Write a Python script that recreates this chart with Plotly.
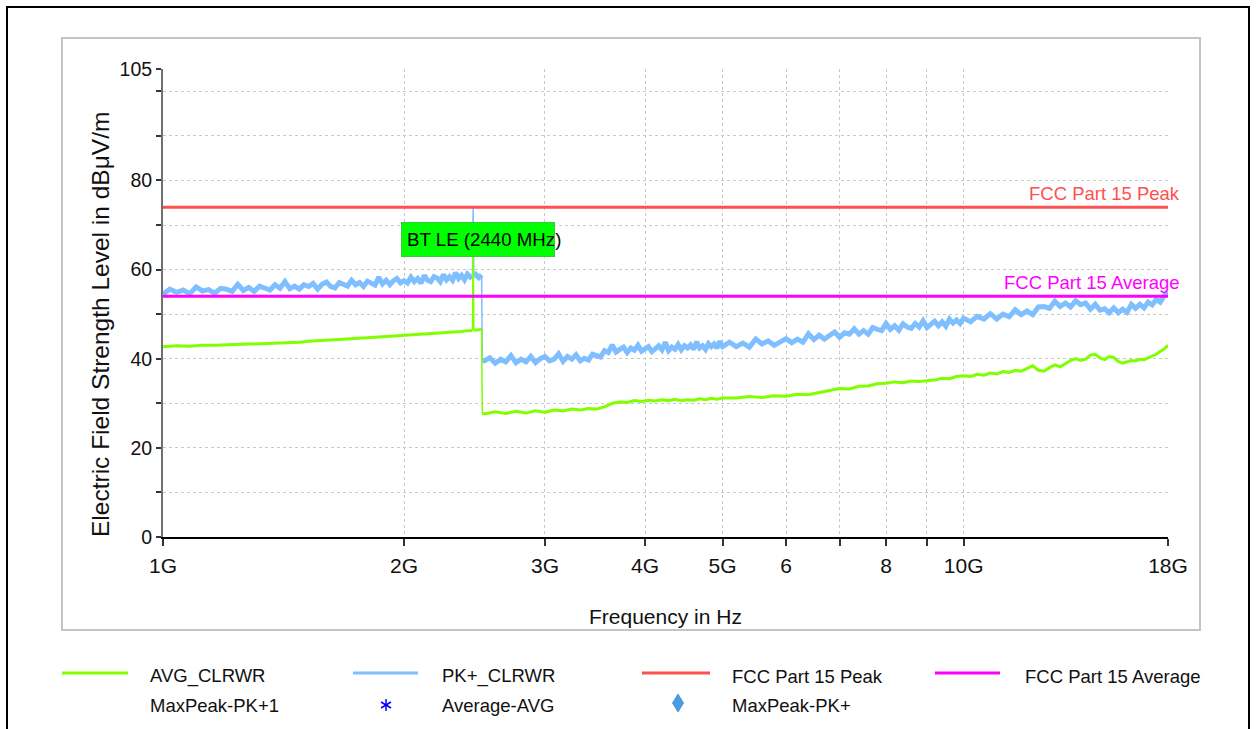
import numpy as np
import plotly.graph_objects as go

FONT = "Liberation Sans, Arial, sans-serif"

# ---------------- PK+ sweep (GHz, dBuV/m) ----------------
pk_freq_low = [1.00, 1.02, 1.04, 1.06, 1.08, 1.10, 1.12, 1.14, 1.16, 1.18,
               1.20, 1.22, 1.24, 1.26, 1.28, 1.30, 1.32, 1.34, 1.36, 1.38,
               1.40, 1.42, 1.44, 1.46, 1.48, 1.50, 1.52, 1.54, 1.56, 1.58,
               1.60, 1.62, 1.64, 1.66, 1.68, 1.70, 1.72, 1.74, 1.76, 1.78,
               1.80, 1.82, 1.84, 1.86, 1.88, 1.90, 1.92, 1.94, 1.96, 1.98,
               2.00, 2.02, 2.04, 2.06, 2.08, 2.10, 2.12, 2.14, 2.16, 2.18,
               2.20, 2.22, 2.24, 2.26, 2.28, 2.30, 2.32, 2.34, 2.36, 2.38,
               2.40, 2.42, 2.435, 2.44, 2.445, 2.46, 2.48, 2.50]
pk_level_low = [54.5, 55.6, 54.9, 55.4, 54.6, 56.1, 55.2, 55.5, 54.7, 55.8,
                55.6, 55.1, 56.7, 55.3, 56.0, 55.1, 56.3, 55.8, 55.4, 56.6,
                55.8, 57.3, 55.7, 56.3, 55.6, 56.6, 56.2, 56.9, 55.6, 56.7,
                57.2, 56.2, 55.9, 57.1, 56.7, 56.3, 57.6, 56.6, 57.1, 56.2,
                57.4, 57.0, 56.5, 58.3, 56.8, 57.6, 56.6, 57.5, 58.0, 57.0,
                57.5, 57.0, 58.3, 57.3, 58.0, 56.9, 58.7, 57.6, 57.3, 58.4,
                58.1, 57.3, 58.9, 57.7, 58.4, 57.6, 59.3, 58.0, 58.7, 57.7,
                59.0, 58.3, 58.6, 74.0, 58.4, 58.9, 58.2, 58.8]

pk_freq_mid = [2.505, 2.52, 2.56, 2.60, 2.64, 2.68, 2.72, 2.76, 2.80, 2.84, 2.88,
               2.92, 2.96, 3.00, 3.04, 3.08, 3.12, 3.16, 3.20, 3.24, 3.28,
               3.32, 3.36, 3.40, 3.44, 3.48, 3.52, 3.56, 3.60, 3.64, 3.68,
               3.72, 3.76, 3.80, 3.84, 3.88, 3.92, 3.96, 4.00, 4.04, 4.08,
               4.12, 4.16, 4.20, 4.24, 4.28, 4.32, 4.36, 4.40, 4.44, 4.48,
               4.52, 4.56, 4.60, 4.64, 4.68, 4.72, 4.76, 4.80, 4.84, 4.88,
               4.92, 4.96, 5.00]
pk_level_mid = [39.6, 39.5, 40.2, 39.0, 39.9, 39.3, 40.7, 39.1, 39.9, 39.3, 40.5,
                39.1, 40.0, 40.5, 39.5, 39.9, 41.1, 39.4, 40.5, 39.9, 40.9,
                39.5, 40.1, 39.7, 41.0, 40.8, 40.4, 41.8, 41.4, 43.1, 41.5,
                42.1, 42.6, 41.4, 42.4, 41.9, 43.0, 41.7, 42.1, 42.7, 41.6,
                42.4, 42.9, 42.0, 43.7, 41.8, 42.6, 42.1, 43.2, 42.0, 42.9,
                42.4, 43.1, 42.1, 43.8, 42.4, 42.9, 42.1, 43.4, 42.7, 43.3,
                42.4, 43.9, 42.7]

pk_freq_high = [5.1, 5.2, 5.3, 5.4, 5.5, 5.6, 5.7, 5.8, 5.9, 6.0,
                6.1, 6.2, 6.3, 6.4, 6.5, 6.6, 6.7, 6.8, 6.9, 7.0,
                7.1, 7.2, 7.3, 7.4, 7.5, 7.6, 7.7, 7.8, 7.9, 8.0,
                8.1, 8.2, 8.3, 8.4, 8.5, 8.6, 8.7, 8.8, 8.9, 9.0,
                9.1, 9.2, 9.3, 9.4, 9.5, 9.6, 9.7, 9.8, 9.9, 10.0,
                10.2, 10.4, 10.6, 10.8, 11.0, 11.2, 11.4, 11.6, 11.8, 12.0,
                12.2, 12.4, 12.6, 12.8, 13.0, 13.2, 13.4, 13.6, 13.8, 14.0,
                14.2, 14.4, 14.6, 14.8, 15.0, 15.2, 15.4, 15.6, 15.8, 16.0,
                16.2, 16.4, 16.6, 16.8, 17.0, 17.2, 17.4, 17.6, 17.8, 18.0]
pk_level_high = [43.7, 42.7, 43.5, 42.6, 44.4, 43.3, 44.0, 43.0, 43.7, 44.5,
                 43.6, 44.4, 43.7, 45.6, 44.3, 45.3, 44.4, 45.2, 46.0, 44.8,
                 45.8, 45.5, 46.7, 45.5, 46.3, 45.5, 47.0, 46.6, 46.3, 47.9,
                 46.6, 47.4, 46.4, 47.8, 47.1, 46.8, 47.9, 47.1, 48.5, 47.0,
                 47.9, 48.4, 47.4, 48.3, 47.3, 48.9, 48.0, 48.7, 47.9, 49.1,
                 48.3, 49.5, 48.9, 50.1, 48.9, 50.0, 49.4, 51.0, 49.9, 50.7,
                 49.9, 51.6, 51.7, 51.3, 52.9, 51.7, 52.5, 51.6, 53.0, 52.1,
                 52.5, 51.1, 52.2, 50.9, 51.2, 50.3, 51.4, 50.3, 51.1, 50.4,
                 52.2, 51.3, 52.2, 51.4, 52.7, 52.1, 53.3, 52.7, 54.1, 55.0]

# ---------------- AVG sweep (GHz, dBuV/m) ----------------
avg_freq_low = [1.00, 1.04, 1.08, 1.12, 1.16, 1.20, 1.24, 1.28, 1.32, 1.36,
                1.40, 1.44, 1.48, 1.52, 1.56, 1.60, 1.64, 1.68, 1.72, 1.76,
                1.80, 1.84, 1.88, 1.92, 1.96, 2.00, 2.04, 2.08, 2.12, 2.16,
                2.20, 2.24, 2.28, 2.32, 2.36, 2.40, 2.42, 2.435, 2.44, 2.445,
                2.46, 2.48, 2.50]
avg_level_low = [42.7, 42.9, 42.8, 43.0, 43.0, 43.1, 43.2, 43.2, 43.4, 43.4,
                 43.5, 43.7, 43.7, 43.9, 44.0, 44.1, 44.2, 44.4, 44.4, 44.6,
                 44.7, 44.8, 44.9, 45.0, 45.1, 45.2, 45.3, 45.4, 45.5, 45.6,
                 45.7, 45.8, 45.9, 46.0, 46.1, 46.3, 46.3, 46.3, 66.0, 46.4,
                 46.4, 46.5, 46.6]

avg_freq_mid = [2.505, 2.52, 2.60, 2.68, 2.76, 2.84, 2.92, 3.00, 3.08, 3.16, 3.24,
                3.32, 3.40, 3.48, 3.56, 3.64, 3.72, 3.80, 3.88, 3.96, 4.04,
                4.12, 4.20, 4.28, 4.36, 4.44, 4.52, 4.60, 4.68, 4.76, 4.84,
                4.92, 5.00]
avg_level_mid = [27.8, 27.6, 28.1, 27.7, 28.2, 27.8, 28.3, 28.0, 28.5, 28.3, 28.7,
                 28.5, 28.8, 28.7, 29.2, 30.0, 30.3, 30.2, 30.6, 30.4, 30.7,
                 30.5, 30.8, 30.6, 30.9, 30.6, 30.8, 30.7, 31.0, 30.8, 31.1,
                 30.9, 31.2]

avg_freq_high = [5.2, 5.4, 5.6, 5.8, 6.0, 6.2, 6.4, 6.6, 6.8, 7.0,
                 7.2, 7.4, 7.6, 7.8, 8.0, 8.2, 8.4, 8.6, 8.8, 9.0,
                 9.2, 9.4, 9.6, 9.8, 10.0,
                 10.2, 10.4, 10.6, 10.8, 11.0, 11.2, 11.4, 11.6, 11.8, 12.0,
                 12.2, 12.4, 12.6, 12.8, 13.0, 13.2, 13.4, 13.6, 13.8, 14.0,
                 14.2, 14.4, 14.6, 14.8, 15.0, 15.2, 15.4, 15.6, 15.8, 16.0,
                 16.2, 16.4, 16.6, 16.8, 17.0, 17.2, 17.4, 17.6, 17.8, 18.0]
avg_level_high = [31.2, 31.5, 31.3, 31.7, 31.6, 32.0, 31.9, 32.4, 32.9, 33.3,
                  33.2, 33.8, 33.9, 34.4, 34.5, 34.8, 34.6, 35.0, 34.9, 35.1,
                  35.2, 35.6, 35.5, 36.0, 36.2,
                  36.0, 36.5, 36.3, 36.8, 36.6, 37.1, 36.9, 37.4, 37.2, 37.8,
                  38.4, 37.4, 37.2, 38.0, 38.6, 38.2, 38.9, 39.6, 40.0, 39.6,
                  39.9, 40.8, 41.0, 40.2, 39.8, 40.5, 40.3, 39.4, 39.0, 39.3,
                  39.6, 39.5, 39.9, 39.8, 40.2, 40.5, 41.0, 41.6, 42.2, 43.0]

# ---------------- limits ----------------
limit_freq = [1.0, 18.0]
fcc_peak_limit = [74.0, 74.0]
fcc_avg_limit = [54.0, 54.0]

# ---------------- axes ----------------
x_tick_vals = [1, 2, 3, 4, 5, 6, 7, 8, 9, 10, 18]
x_tick_text = ["1G", "2G", "3G", "4G", "5G", "6", "", "8", "", "10G", "18G"]
y_tick_vals = [0, 10, 20, 30, 40, 50, 60, 70, 80, 90, 100, 105]
y_tick_text = ["0", "", "20", "", "40", "", "60", "", "80", "", "", "105"]

marker_freq = 2.44
marker_level = 66.7
marker_text = "BT LE (2440 MHz)"

C_AVG = "#80FF00"
C_PK = "#80BFFF"
C_PEAK = "#FF5050"
C_AVGLIM = "#FF00FF"
C_TEXT = "#111111"

# plot area in pixels
L, R, T, B = 163, 1168, 69, 537
W, H = 1257, 729


def px(x):
    return (x - L) / (R - L)


def py(y):
    return (B - y) / (B - T)


def add_sweep(fig, freq, level, color, width):
    """Sweep drawn as a wide noisy band; the narrow spike at the marker and the
    band-edge step are drawn with a thin pen."""
    i_s0, i_s1 = freq.index(2.435), freq.index(2.445)
    i_d0, i_d1 = freq.index(2.50), freq.index(2.505)
    pieces = [(0, i_s0 + 1, width), (i_s0, i_s1 + 1, 1.5), (i_s1, i_d0 + 1, width),
              (i_d0, i_d1 + 1, 1.5), (i_d1, len(freq), width)]
    for a, b, w in pieces:
        fig.add_trace(go.Scatter(x=freq[a:b], y=level[a:b], mode="lines",
                                 line=dict(color=color, width=w), hoverinfo="skip"))


fig = go.Figure()
add_sweep(fig, pk_freq_low + pk_freq_mid + pk_freq_high,
          pk_level_low + pk_level_mid + pk_level_high, C_PK, 5)
add_sweep(fig, avg_freq_low + avg_freq_mid + avg_freq_high,
          avg_level_low + avg_level_mid + avg_level_high, C_AVG, 3)
fig.add_trace(go.Scatter(x=limit_freq, y=fcc_peak_limit, mode="lines",
                         line=dict(color=C_PEAK, width=3), name="FCC Part 15 Peak"))
fig.add_trace(go.Scatter(x=limit_freq, y=fcc_avg_limit, mode="lines",
                         line=dict(color=C_AVGLIM, width=3), name="FCC Part 15 Average"))

annotations = []
# limit labels
for label, level, color in [("FCC Part 15 Peak", fcc_peak_limit[1], C_PEAK),
                            ("FCC Part 15 Average", fcc_avg_limit[1], C_AVGLIM)]:
    annotations.append(dict(x=np.log10(limit_freq[1]), y=level, xref="x", yref="y",
                            text=label, showarrow=False, xanchor="right",
                            yanchor="bottom", xshift=14, yshift=1,
                            font=dict(color=color, size=18.5, family=FONT)))
# marker label: green box, then its text on top (text runs past the box)
annotations.append(dict(x=np.log10(marker_freq), y=marker_level, xref="x", yref="y",
                        text=" ", showarrow=False, xanchor="center", yanchor="middle",
                        xshift=5, width=150, height=31,
                        bgcolor="#00FF00", bordercolor="#3CC83C", borderwidth=1,
                        font=dict(size=18, family=FONT)))
annotations.append(dict(x=np.log10(marker_freq), y=marker_level, xref="x", yref="y",
                        text=marker_text, showarrow=False, xanchor="left", yanchor="middle",
                        xshift=-68, font=dict(color="black", size=18.7, family=FONT)))
# axis titles
annotations.append(dict(x=px(100), y=py(325), xref="paper", yref="paper",
                        text="Electric Field Strength Level in dBμV/m", textangle=-90,
                        showarrow=False, xanchor="center", yanchor="middle",
                        font=dict(size=24.5, family=FONT, color=C_TEXT)))
annotations.append(dict(x=px(665), y=py(616), xref="paper", yref="paper",
                        text="Frequency in Hz", showarrow=False,
                        xanchor="center", yanchor="middle",
                        font=dict(size=21, family=FONT, color=C_TEXT)))

# legend
legend_text = [("AVG_CLRWR", 148, 676), ("PK+_CLRWR", 440, 676),
               ("FCC Part 15 Peak", 730, 676), ("FCC Part 15 Average", 1023, 676),
               ("MaxPeak-PK+1", 148, 705), ("Average-AVG", 440, 705),
               ("MaxPeak-PK+", 730, 705)]
for txt, lx, ly in legend_text:
    annotations.append(dict(x=px(lx), y=py(ly), xref="paper", yref="paper", text=txt,
                            showarrow=False, xanchor="left", yanchor="middle",
                            font=dict(size=18.5, family=FONT, color=C_TEXT)))

shapes = []
# outer frame and chart panel
shapes.append(dict(type="rect", xref="paper", yref="paper", x0=px(7), x1=px(1249),
                   y0=py(745), y1=py(7), line=dict(color="black", width=2), layer="below"))
shapes.append(dict(type="rect", xref="paper", yref="paper", x0=px(62), x1=px(1200),
                   y0=py(630), y1=py(38), line=dict(color="#c4c4c4", width=2), layer="below"))
# legend line samples
for color, x0, x1 in [(C_AVG, 62, 128), (C_PK, 353, 418), (C_PEAK, 642, 710), (C_AVGLIM, 935, 1000)]:
    shapes.append(dict(type="line", xref="paper", yref="paper", x0=px(x0), x1=px(x1),
                       y0=py(673), y1=py(673), line=dict(color=color, width=3)))
# asterisk symbol
ax_, ay_ = 386, 705
for dx0, dy0, dx1, dy1 in [(0, -6, 0, 6), (-5, -3, 5, 3), (-5, 3, 5, -3)]:
    shapes.append(dict(type="line", xref="paper", yref="paper",
                       x0=px(ax_ + dx0), y0=py(ay_ + dy0), x1=px(ax_ + dx1), y1=py(ay_ + dy1),
                       line=dict(color="#0000FF", width=1.5)))
# diamond symbol
dx_, dy_ = 678, 703
path = "M {},{} L {},{} L {},{} L {},{} Z".format(
    px(dx_), py(dy_ - 9), px(dx_ + 5.5), py(dy_), px(dx_), py(dy_ + 9), px(dx_ - 5.5), py(dy_))
shapes.append(dict(type="path", xref="paper", yref="paper", path=path,
                   fillcolor="#4A9CE0", line=dict(color="#4A9CE0", width=1)))

fig.update_layout(
    width=W, height=H,
    margin=dict(l=L, r=W - R, t=T, b=H - B),
    plot_bgcolor="white", paper_bgcolor="white",
    showlegend=False,
    font=dict(family=FONT, size=21, color=C_TEXT),
    annotations=annotations, shapes=shapes,
    xaxis=dict(type="log", range=[0, np.log10(18)], tickmode="array",
               tickvals=x_tick_vals, ticktext=x_tick_text,
               ticks="outside", ticklen=7, tickwidth=1.5, tickcolor="#333",
               ticklabelstandoff=2,
               showline=True, linecolor="black", linewidth=2,
               showgrid=True, gridcolor="#c8c8c8", griddash="dot", gridwidth=1,
               zeroline=False, tickfont=dict(size=21, family=FONT, color=C_TEXT)),
    yaxis=dict(range=[0, 105], tickmode="array", tickvals=y_tick_vals, ticktext=y_tick_text,
               ticks="outside", ticklen=5, tickwidth=1.5, tickcolor="#333",
               showline=True, linecolor="#707070", linewidth=2,
               showgrid=True, gridcolor="#c8c8c8", griddash="dot", gridwidth=1,
               zeroline=False, tickfont=dict(size=19.5, family=FONT, color=C_TEXT)),
)

fig.write_html("out.html")
